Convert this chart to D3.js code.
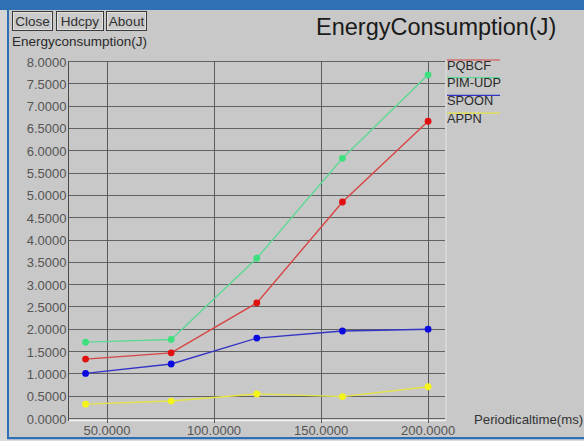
<!DOCTYPE html>
<html>
<head>
<meta charset="utf-8">
<script src="https://cdnjs.cloudflare.com/ajax/libs/d3/7.8.5/d3.min.js"></script>
<style>
  html, body { margin: 0; padding: 0; background: #c8c8c8; }
  svg { display: block; }
  text { font-family: "Liberation Sans", Arial, sans-serif; }
</style>
</head>
<body>
<svg id="chart" width="584" height="441"></svg>
<script>
// Periodic time (ms) at which each protocol was measured
const periods = [40, 80, 120, 160, 200];

// Energy consumption (J) per protocol
const seriesNames = ["PQBCF", "PIM-UDP", "SPOON", "APPN"];
const pqbcf  = [1.32, 1.46, 2.58, 4.84, 6.65];
const pimUdp = [1.70, 1.76, 3.58, 5.82, 7.69];
const spoon  = [1.00, 1.21, 1.79, 1.95, 1.99];
const appn   = [0.31, 0.38, 0.54, 0.48, 0.70];

// Axis ticks
const yTicks = [0, 0.5, 1, 1.5, 2, 2.5, 3, 3.5, 4, 4.5, 5, 5.5, 6, 6.5, 7, 7.5, 8];
const xTicks = [50, 100, 150, 200];

const buttonLabels = ["Close", "Hdcpy", "About"];

const seriesValues = [pqbcf, pimUdp, spoon, appn];
const lineColors   = ["#d84444", "#5ed896", "#3434c4", "#e4e448"];
const markColors   = ["#e01010", "#3ee07e", "#0a0ae0", "#f4f41a"];

const svg = d3.select("#chart");
const W = 584, H = 441;

// window background and frame
svg.append("rect").attr("width", W).attr("height", H).attr("fill", "#c8c8c8");
svg.append("rect").attr("x", 0).attr("y", 0).attr("width", 7).attr("height", H).attr("fill", "#d6d6d6");
svg.append("rect").attr("x", 0).attr("y", 0).attr("width", W).attr("height", 10).attr("fill", "#2f6fb6");
svg.append("rect").attr("x", 7).attr("y", 10).attr("width", 2).attr("height", 428).attr("fill", "#2f6fb6");
svg.append("rect").attr("x", 7).attr("y", 437).attr("width", W - 7).attr("height", 2.5).attr("fill", "#2f6fb6");
svg.append("rect").attr("x", 0).attr("y", 439.5).attr("width", W).attr("height", 1.5).attr("fill", "#dcdcdc");

// toolbar buttons
const btnX = [12, 56, 106], btnW = [40, 47, 40];
buttonLabels.forEach((b, i) => {
  svg.append("rect").attr("x", btnX[i] + 0.5).attr("y", 11.5).attr("width", btnW[i]).attr("height", 19)
    .attr("fill", "#cbcbcb").attr("stroke", "#3a3a3a").attr("stroke-width", 1);
  svg.append("rect").attr("x", btnX[i] + 1.5).attr("y", 12.5).attr("width", btnW[i] - 2).attr("height", 17)
    .attr("fill", "none").attr("stroke", "#e6e6e6").attr("stroke-width", 0.8);
  svg.append("text").attr("x", btnX[i] + btnW[i] / 2 + 0.5).attr("y", 26)
    .attr("text-anchor", "middle").attr("font-size", 13.5).attr("fill", "#303030").text(b);
});

// titles
svg.append("text").attr("x", 316).attr("y", 35).attr("font-size", 23.5).attr("fill", "#1a1a1a")
  .text("EnergyConsumption(J)");
svg.append("text").attr("x", 12).attr("y", 46).attr("font-size", 13.5).attr("fill", "#2a2a2a")
  .text("Energyconsumption(J)");
svg.append("text").attr("x", 474).attr("y", 424).attr("font-size", 13.2).attr("fill", "#333")
  .text("Periodicaltime(ms)");

// scales
const plotL = 68, plotR = 445, plotT = 61, plotB = 418;
const x = d3.scaleLinear().domain([31.8, 207.9]).range([plotL, plotR]);
const y = d3.scaleLinear().domain([0, 8]).range([plotB, plotT]);

// plot frame: light bottom/right edges
svg.append("line").attr("x1", plotL).attr("x2", plotR + 1).attr("y1", 420.5).attr("y2", 420.5)
  .attr("stroke", "#f2f2f2").attr("stroke-width", 1.5);
svg.append("line").attr("x1", plotR + 1).attr("x2", plotR + 1).attr("y1", plotT).attr("y2", 421)
  .attr("stroke", "#e2e2e2").attr("stroke-width", 1);

// horizontal grid
svg.append("g").selectAll("line").data(yTicks).join("line")
  .attr("x1", plotL).attr("x2", plotR)
  .attr("y1", d => Math.round(y(d)) + 0.5).attr("y2", d => Math.round(y(d)) + 0.5)
  .attr("stroke", "#626262").attr("stroke-width", 1);

// vertical grid
svg.append("g").selectAll("line").data(xTicks).join("line")
  .attr("x1", d => Math.round(x(d)) + 0.5).attr("x2", d => Math.round(x(d)) + 0.5)
  .attr("y1", plotT).attr("y2", 423)
  .attr("stroke", "#5a5a5a").attr("stroke-width", 1);

// y axis line
svg.append("line").attr("x1", plotL + 0.5).attr("x2", plotL + 0.5).attr("y1", plotT).attr("y2", 421)
  .attr("stroke", "#4a4a4a").attr("stroke-width", 1);

// y tick labels
const fmt = d3.format(".4f");
svg.append("g").selectAll("text").data(yTicks).join("text")
  .attr("x", plotL - 1.5).attr("y", d => y(d) + 5.5)
  .attr("text-anchor", "end").attr("font-size", 13).attr("fill", "#555")
  .text(d => fmt(d));

// x tick labels
svg.append("g").selectAll("text").data(xTicks).join("text")
  .attr("x", d => x(d)).attr("y", 435)
  .attr("text-anchor", "middle").attr("font-size", 13).attr("fill", "#555")
  .text(d => fmt(d));

// series lines and markers
const line = d3.line().x((d, i) => x(periods[i])).y(d => y(d));
seriesValues.forEach((vals, s) => {
  svg.append("path").datum(vals).attr("d", line)
    .attr("fill", "none").attr("stroke", lineColors[s]).attr("stroke-width", 1.4);
  svg.append("g").selectAll("circle").data(vals).join("circle")
    .attr("cx", (d, i) => x(periods[i])).attr("cy", d => y(d)).attr("r", 3.4)
    .attr("fill", markColors[s]);
});

// legend
seriesNames.forEach((name, i) => {
  const base = 69.5 + i * 17.7;
  svg.append("line").attr("x1", 447).attr("x2", 500).attr("y1", base - 9.5).attr("y2", base - 9.5)
    .attr("stroke", lineColors[i]).attr("stroke-width", 1.2);
  svg.append("text").attr("x", 447).attr("y", base).attr("font-size", 12.8).attr("fill", "#2a2a2a")
    .text(name);
});
</script>
</body>
</html>
